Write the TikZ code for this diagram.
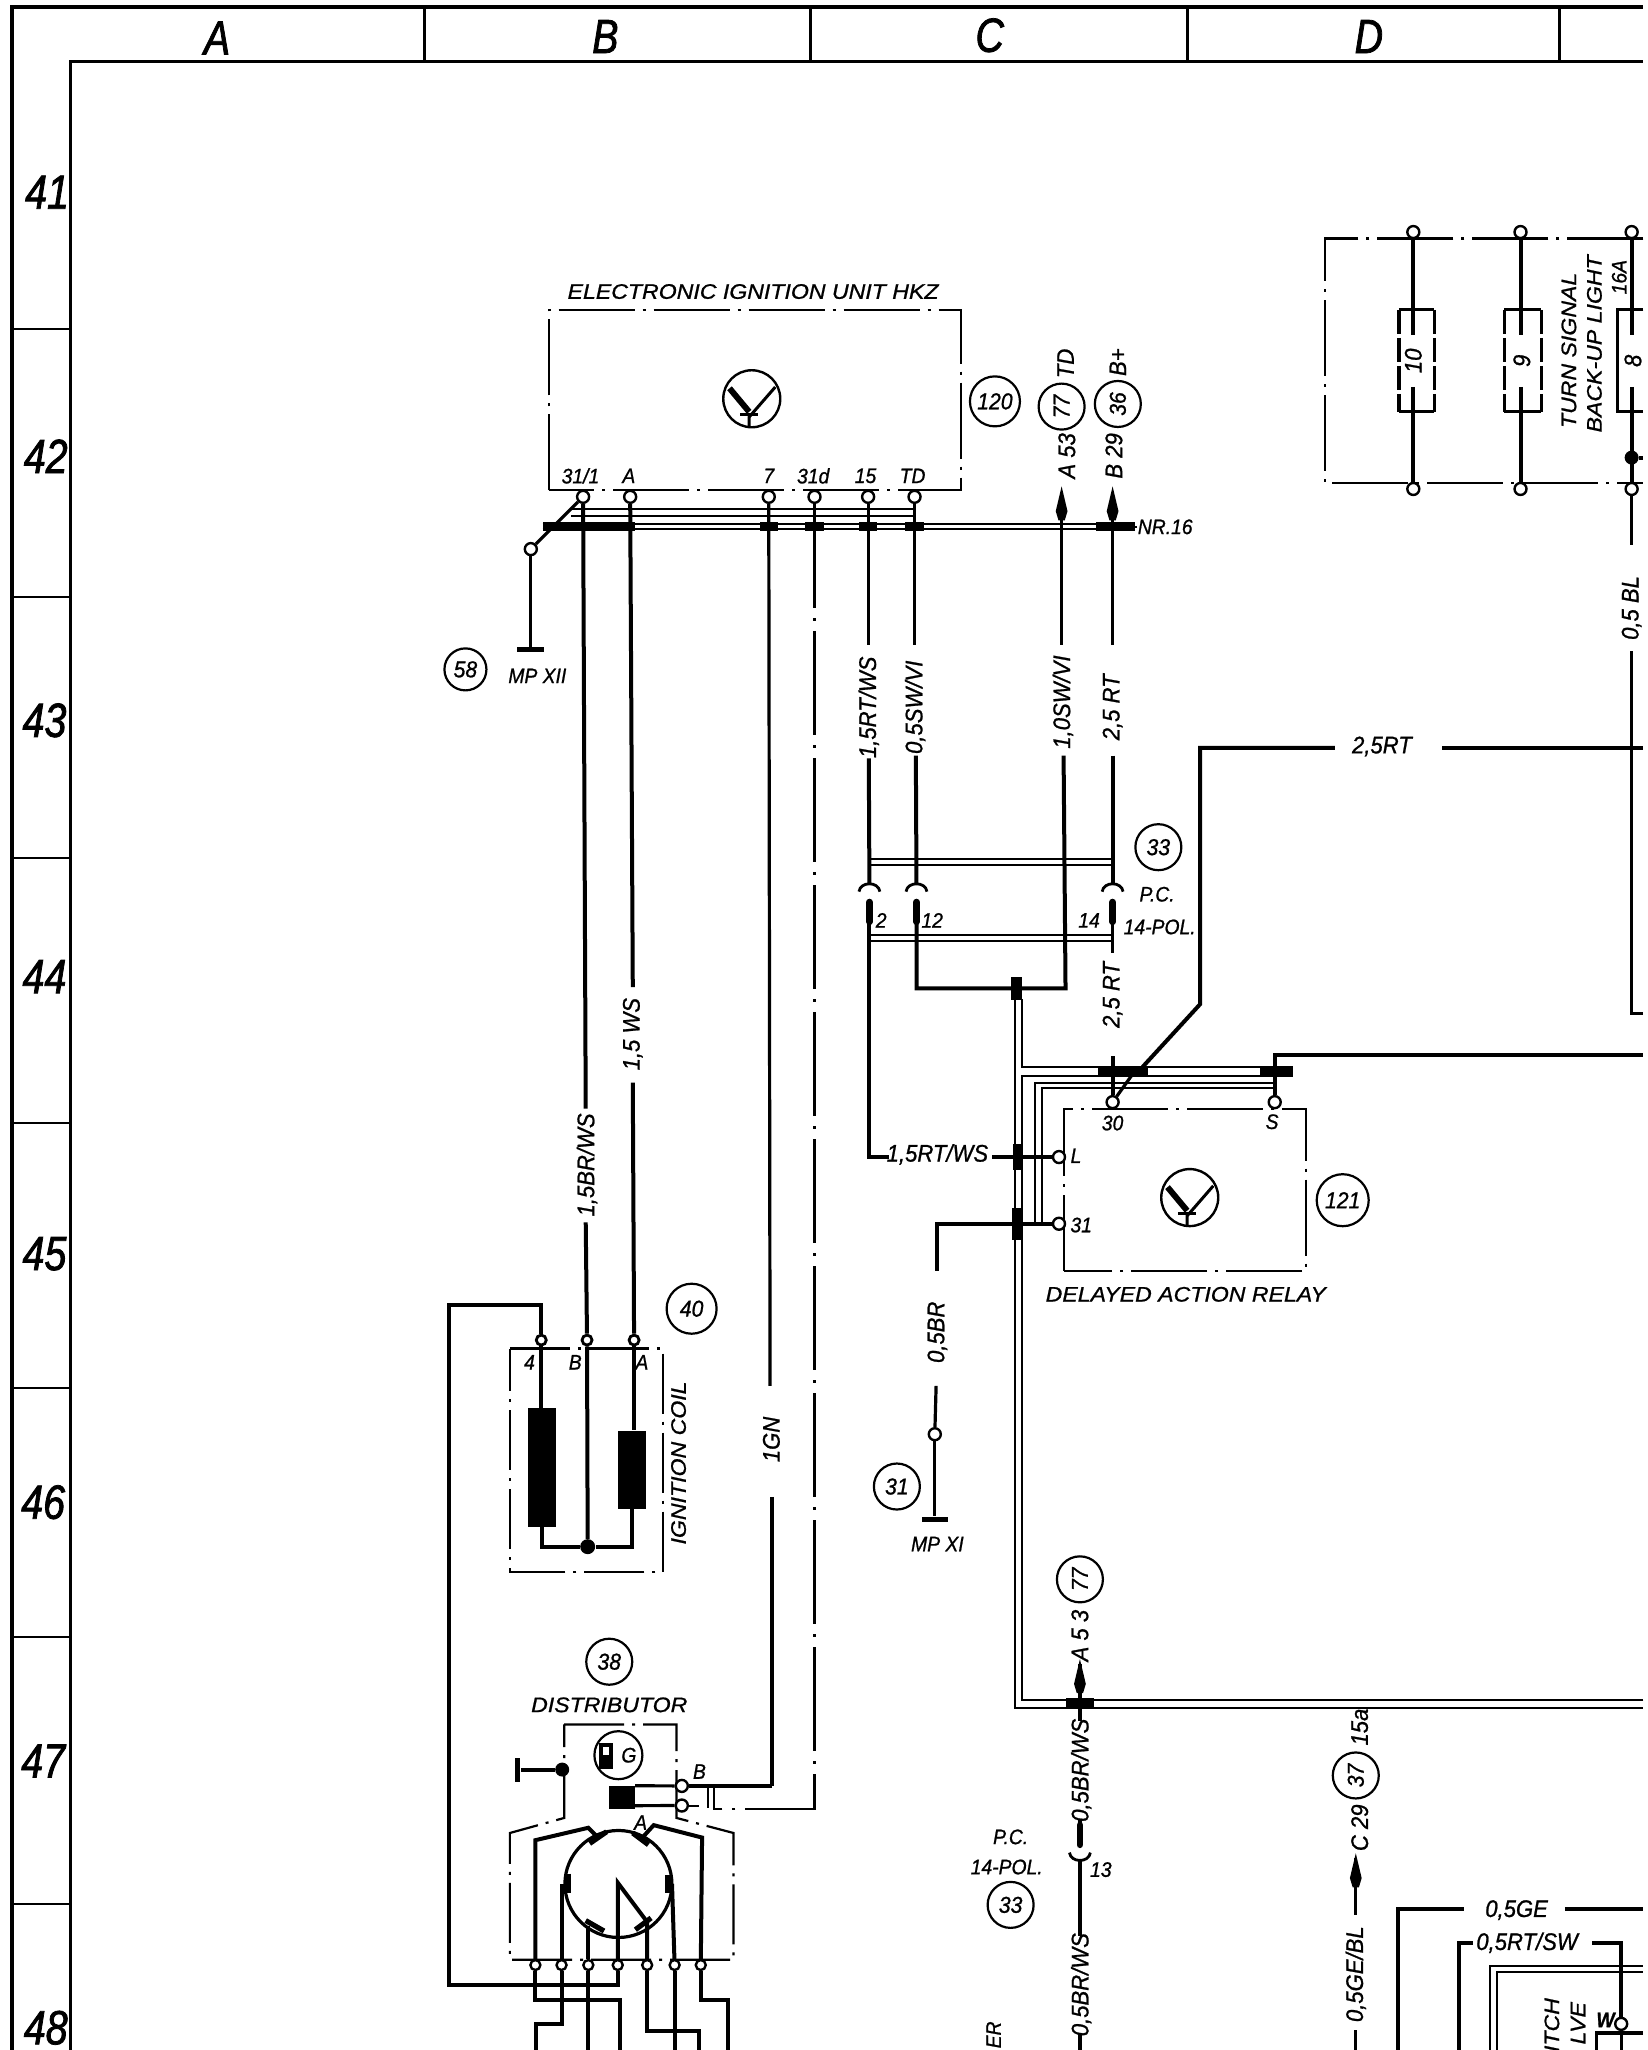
\documentclass[tikz,border=0pt]{standalone}
\usepackage{fontspec}
\setmainfont{Liberation Sans}
\newfontfamily\basef[FakeStretch=0.92,FakeBold=0.9]{Liberation Sans}
\newfontfamily\widef[FakeStretch=1.1,FakeBold=0.9]{Liberation Sans}
\newfontfamily\hdf[FakeStretch=0.82,FakeBold=1.6]{Liberation Sans}
\tikzset{
  frameo/.style={line width=2pt},
  framei/.style={line width=1.3pt},
  wire/.style={line width=2pt},
  mid/.style={line width=1.6pt},
  hair/.style={line width=1pt},
  ddot/.style={line width=1.1pt,dash pattern=on 38pt off 4pt on 1.5pt off 4pt},
  ddots/.style={line width=1.1pt,dash pattern=on 30pt off 4pt on 1.5pt off 4pt},
  term/.style={draw,circle,fill=white,line width=1.2pt,minimum size=6pt,inner sep=0pt},
  sterm/.style={draw,circle,fill=white,line width=1.4pt,minimum size=5pt,inner sep=0pt},
  dotn/.style={fill=black,circle,minimum size=7pt,inner sep=0pt},
  blk/.style={fill=black,inner sep=0pt},
  wl/.style={font=\basef\itshape\fontsize{12}{13}\selectfont,inner sep=0pt},
  vl/.style={wl,rotate=90},
  tl/.style={font=\basef\itshape\fontsize{10.5}{11}\selectfont,inner sep=0pt},
  vt/.style={tl,rotate=90},
  wd/.style={font=\widef\itshape\fontsize{10.5}{11}\selectfont,inner sep=0pt},
  hd/.style={font=\hdf\itshape\fontsize{24}{25}\selectfont,inner sep=0pt},
  cn/.style={draw,circle,line width=1.1pt,inner sep=0pt,minimum size=23pt,font=\basef\itshape\fontsize{11.5}{12}\selectfont},
  tsym/.pic={
    \node[draw,circle,line width=1.2pt,minimum size=28.5pt,inner sep=0pt] (-c) at (0,0) {};
    \draw[line width=3pt] (-17,-8) -- (-2,10);
    \draw[line width=1.5pt] (18,-9) -- (-2,14) -- (-2,21);
    \draw[line width=1.5pt] (-9,12) -- (5,12);
  },
  upplug/.pic={% socket opening downwards, pin below
    \draw[line width=1.4pt] (-8,3) .. controls (-7,-5) and (7,-5) .. (8,3);
    \draw[line width=3.4pt,line cap=round] (0,11) -- (0,26);
    \coordinate (-a) at (0,-3);
    \coordinate (-b) at (0,26);
  },
  dnplug/.pic={% socket opening upwards, pin above
    \draw[line width=1.4pt] (-8,-3) .. controls (-7,5) and (7,5) .. (8,-3);
    \draw[line width=3.4pt,line cap=round] (0,-9) -- (0,-24);
    \coordinate (-a) at (0,3);
    \coordinate (-b) at (0,-24);
  },
  arrowup/.pic={
    \fill (0,0) -- (4.5,19) -- (2.4,26) -- (-2.4,26) -- (-4.5,19) -- cycle;
    \coordinate (-t) at (0,4);
  },
}
\begin{document}
\begin{tikzpicture}[x=0.6537pt,y=-0.6537pt]
\useasboundingbox (0,0) rectangle (1260.5,1568);
\fill[white] (0,0) rectangle (1260.5,1568);

% ---------- frame
\draw[frameo] (9.5,1568) -- (9.5,5) -- (1257,5);
\draw[framei] (54,1568) -- (54,47) -- (1257,47);
\foreach \x in {325,620,908,1193} \draw[line width=1.5pt] (\x,5) -- (\x,47);
\foreach \y in {252,457,656,859,1062,1252,1456} \draw[line width=1pt] (9.5,\y) -- (54,\y);
\node[hd] (hA) at (166,29) {A};
\node[hd] (hB) at (463,28) {B};
\node[hd] (hC) at (757,27) {C};
\node[hd] (hD) at (1047,28) {D};
\node[hd] (r41) at (36,147) {41};
\node[hd] (r42) at (35,349) {42};
\node[hd] (r43) at (34,551) {43};
\node[hd] (r44) at (34,747) {44};
\node[hd] (r45) at (34,959) {45};
\node[hd] (r46) at (33,1149) {46};
\node[hd] (r47) at (33,1347) {47};
\node[hd] (r48) at (35,1551) {48};

% ---------- electronic ignition unit
\draw[ddot] (420,375) -- (420,237) -- (735,237) -- (735,375) -- cycle;
\node[wd] (tHKZ) at (576,223) {ELECTRONIC IGNITION UNIT HKZ};
\pic (s1) at (575,305) {tsym};
\node[cn,minimum size=25pt] (c120) at (761,307) {120};
\node[term] (u31) at (446,380) {};
\node[term] (uA) at (482,380) {};
\node[term] (u7) at (588,380) {};
\node[term] (u31d) at (623,380) {};
\node[term] (u15) at (664,380) {};
\node[term] (uTD) at (699.5,380) {};
\node[tl] (lu31) at (444,364) {31/1};
\node[tl] (luA) at (481,364) {A};
\node[tl] (lu7) at (588,364) {7};
\node[tl] (lu31d) at (622,364) {31d};
\node[tl] (lu15) at (662,364) {15};
\node[tl] (luTD) at (698,364) {TD};

% thin double line under the terminals and the hollow bar
\draw[hair] (437,389.5) -- (699.5,389.5);
\draw[hair] (437,394.5) -- (699.5,394.5);
\draw[hair] (415,400.5) -- (868,400.5);
\draw[hair] (415,405) -- (868,405);
\fill (415,399) rectangle (486,406.5);
\foreach \x in {588,623,664,699.5} \fill (\x-7,399) rectangle (\x+7,406.5);
\fill (838,399) rectangle (868,406.5);
\coordinate (barE) at (868,403);
\node[tl,anchor=west] (nr) at (870,403) {NR.16};
\draw[hair] (barE) -- (nr.west);

% ground 58
\node[term] (g58) at (406,420) {};
\node[blk,minimum width=13.5pt,minimum height=2.4pt] (gb58) at (406,497) {};
\draw[mid] (u31) -- (g58);
\draw[mid] (g58) -- (gb58);
\node[cn,minimum size=21pt] (c58) at (356,512) {58};
\node[tl] (mp12) at (411,517) {MP XII};

% references above
\pic (a53) at (812,372) {arrowup};
\pic (b29) at (851,372) {arrowup};
\node[vl,anchor=east] (tA53) at (816,331) {A 53};
\node[vl,anchor=east] (tB29) at (852,331) {B 29};
\node[cn,rotate=90,minimum size=23pt] (c77) at (812,311) {77};
\node[cn,rotate=90,minimum size=23pt] (c36) at (855,309) {36};
\node[vl] (tTD) at (815,278) {TD};
\node[vl] (tBp) at (855,277) {B+};

% wires down from the unit
\node[vl] (l1) at (449,891) {1,5BR/WS};
\node[vl] (l2) at (484,791) {1,5 WS};
\node[vl] (l7) at (590,1101) {1GN};
\node[vl] (l15) at (664.5,541) {1,5RT/WS};
\node[vl] (lTD) at (700,541) {0,5SW/VI};
\node[vl] (l53) at (813,537) {1,0SW/VI};
\node[vl] (l29) at (851,541) {2,5 RT};

% coil terminals
\node[sterm] (cT4) at (414,1025) {};
\node[sterm] (cTB) at (449,1025) {};
\node[sterm] (cTA) at (485,1025) {};

\draw[wire] (u31) -- (448,848) coordinate (e1a);
\draw[wire] (448,935) coordinate (s1b) -- (cTB);
\draw[wire] (uA) -- (484,755) coordinate (e2a);
\draw[wire] (484,828) coordinate (s2b) -- (cTA);
\draw[mid] (u7) -- (589,1060) coordinate (e7a);
\draw[wire] (590.5,1145) coordinate (s7b) -- (590.5,1366) coordinate (b7);
\draw[line width=1.2pt,dash pattern=on 52pt off 5pt on 1.5pt off 5pt] (u31d) -- (623,1383.5) -- (545,1383.5);
\draw[mid] (u15) -- (664,493) coordinate (e15);
\draw[mid] (uTD) -- (699.5,493) coordinate (eTD);
\draw[mid] (a53-t) -- (812,493) coordinate (e53);
\draw[mid] (b29-t) -- (851,493) coordinate (e29);

% connector 33 (P.C. 14-pol.)
\pic (p2) at (665,679) {upplug};
\pic (p12) at (701,679) {upplug};
\pic (p14) at (851,679) {upplug};
\draw[hair] (665,657) -- (851,657);
\draw[hair] (665,661.5) -- (851,661.5);
\draw[hair] (665,715) -- (851,715);
\draw[hair] (665,720) -- (851,720);
\draw[wire] (664.5,580) coordinate (s15) -- (p2-a);
\draw[wire] (700.5,578) coordinate (sTD) -- (p12-a);
\draw[wire] (851,578) coordinate (s29) -- (p14-a);
\node[tl] (t2) at (674,704) {2};
\node[tl] (t12) at (713,704) {12};
\node[tl] (t14) at (833,704) {14};
\node[cn] (c33a) at (886,648) {33};
\node[tl] (pca) at (885,684) {P.C.};
\node[tl] (pola) at (887,709) {14-POL.};
\draw[mid] (p14-b) -- (851,729) coordinate (e14);
\node[vl] (l25) at (851,761) {2,5 RT};

% relay 121
\draw[ddot] (814,972) -- (814,848) -- (999,848) -- (999,972) -- cycle;
\node[term] (r30) at (851,843) {};
\node[term] (rS) at (975,843) {};
\node[term] (rL) at (810,885) {};
\node[term] (r31) at (810,936) {};
\node[tl] (tr30) at (851,859) {30};
\node[tl] (trS) at (973,858) {S};
\node[tl] (trL) at (823,884) {L};
\node[tl] (tr31) at (827,937) {31};
\pic (s2) at (910,916) {tsym};
\node[cn,minimum size=26pt] (c121) at (1027,918) {121};
\node[wd] (tDAR) at (907,990) {DELAYED ACTION RELAY};

% wires into the relay
\draw[wire] (851,808) coordinate (s30) -- (r30);
\node[wl] (l15h) at (717,883) {1,5RT/WS};
\draw[wire] (p2-b) -- (665,885) -- (680,885) coordinate (e2);
\draw[mid] (759,885) coordinate (s2h) -- (rL);
\draw[wire] (p12-b) -- (701,756) -- (815,756) -- (813.5,578) coordinate (s53);

% harness
\node[blk,minimum width=5.2pt,minimum height=11.5pt] (jH) at (777.5,756) {};
\draw[hair] (776,764) -- (776,1306.5) -- (1257,1306.5);
\draw[hair] (781.5,764) -- (781.5,816.5) -- (988,816.5);
\draw[hair] (1257,1300) -- (781.5,1300) -- (781.5,823) -- (988,823);
\fill (840,815.5) rectangle (878,824);
\fill (964,815.5) rectangle (989,824);
\draw[hair] (792,935) -- (792,828.5) -- (975,828.5);
\draw[hair] (797,935) -- (797,832.5) -- (975,832.5);
\node[blk,minimum width=4pt,minimum height=13pt] (jL) at (778,885) {};
\node[blk,minimum width=5.5pt,minimum height=16pt] (j31) at (778,936) {};

% 2,5RT feed
\node[wl] (l25h) at (1057,571) {2,5RT};
\draw[wire] (1021,572) coordinate (e25a) -- (918,572) -- (918,768) -- (874,816);
\draw[mid] (866,822) -- (r30);
\draw[wire] (1103,572) coordinate (s25b) -- (1257,572);
\draw[wire] (rS) -- (975,807) -- (1257,807);

% ground 31
\node[term] (g31) at (715,1097) {};
\node[blk,minimum width=13pt,minimum height=2.4pt] (gb31) at (715,1162) {};
\draw[wire] (r31) -- (717,936) -- (717,972) coordinate (e31);
\draw[mid] (716,1060) coordinate (s31) -- (g31);
\draw[mid] (g31) -- (gb31);
\node[vl] (l05) at (717,1019) {0,5BR};
\node[cn] (c31) at (686,1137) {31};
\node[tl] (mp11) at (717,1181) {MP XI};

% ---------- fuse block
\draw[ddot] (1257,182.4) -- (1013.6,182.4) -- (1013.6,369.6) -- (1257,369.6);
\node[term] (f10t) at (1081,177.5) {};
\node[term] (f9t) at (1163,177.5) {};
\node[term] (f8t) at (1248,177.5) {};
\node[term] (f10b) at (1081,374) {};
\node[term] (f9b) at (1163,374) {};
\node[term] (f8b) at (1248,374) {};
\draw[mid] (1070,237) -- (1097,237);
\draw[mid] (1070,315) -- (1097,315);
\draw[mid,dash pattern=on 12pt off 2pt] (1070,237) -- (1070,315);
\draw[mid,dash pattern=on 12pt off 2pt] (1097,237) -- (1097,315);
\draw[mid] (1150.5,237) -- (1179,237);
\draw[mid] (1150.5,315) -- (1179,315);
\draw[mid,dash pattern=on 12pt off 2pt] (1150.5,237) -- (1150.5,315);
\draw[mid,dash pattern=on 12pt off 2pt] (1179,237) -- (1179,315);
\draw[mid] (1257,237) -- (1237,237) -- (1237,315) -- (1257,315);
\draw[wire] (f10t) -- (1081,256) coordinate (f10x);
\draw[wire] (1081,296) coordinate (f10y) -- (f10b);
\draw[wire] (f9t) -- (1163,256) coordinate (f9x);
\draw[wire] (1163,296) coordinate (f9y) -- (f9b);
\draw[wire] (f8t) -- (1248,256) coordinate (f8x);
\draw[wire] (1248,296) coordinate (f8y) -- (f8b);
\node[vl] (t10) at (1081,276) {10};
\node[vl] (t9) at (1164,276) {9};
\node[vl] (t8) at (1249,276) {8};
\node[dotn] (d8) at (1248,350) {};
\draw[wire] (d8) -- (1257,350);
\node[wd,rotate=90] (tTS) at (1200,268) {TURN SIGNAL};
\node[wd,rotate=90] (tBU) at (1219.5,263) {BACK-UP LIGHT};
\node[vt] (t16) at (1238.5,212) {16A};
\draw[mid] (f8b) -- (1248,417) coordinate (e8);
\node[vl] (l05bl) at (1248,465) {0,5 BL};
\draw[mid] (1248,498) coordinate (s8) -- (1248,775) -- (1257,775);

% ---------- ignition coil
\draw[ddots] (390,1031.5) -- (507,1031.5) -- (507,1202.5) -- (390,1202.5) -- cycle;
\node[tl] (tc4) at (405,1042) {4};
\node[tl] (tcB) at (440,1042) {B};
\node[tl] (tcA) at (491,1042) {A};
\node[cn,minimum size=25pt] (c40) at (529,1001) {40};
\node[wd,rotate=90] (tIC) at (519,1119) {IGNITION COIL};
\node[blk,minimum width=14pt,minimum height=59.5pt] (k1) at (414.5,1122.5) {};
\node[blk,minimum width=14pt,minimum height=39pt] (k2) at (483.5,1124) {};
\node[dotn,minimum size=7.5pt] (kd) at (449.5,1183) {};
\draw[wire] (cT4) -- (k1.north -| cT4);
\draw[wire] (cTA) -- (k2.north -| cTA);
\draw[wire] (cTB) -- (kd);
\draw[wire] (k1.south) -- (414.5,1183) -- (kd);
\draw[wire] (k2.south) -- (483.5,1183) -- (kd);

% ---------- distributor
\node[cn] (c38) at (466,1271) {38};
\node[wd] (tDI) at (466,1304) {DISTRIBUTOR};
\draw[ddots] (431.5,1319) -- (517.5,1319) -- (517.5,1390.5) -- (561,1402) -- (561,1499) -- (390,1499) -- (390,1402) -- (431.5,1390.5) -- cycle;
\node[dotn,minimum size=7pt] (dd) at (430,1353.5) {};
\node[blk,minimum width=2.6pt,minimum height=12pt] (db) at (396,1353.5) {};
\draw[wire] (dd) -- (db);
\node[cn,minimum size=24pt] (cG) at (473,1342.5) {};
\node[wl,font=\basef\itshape\fontsize{10.5}{11}\selectfont] (tG) at (481,1342.5) {G};
\fill (458.5,1333.5) rectangle (468.5,1353);
\fill[white] (461,1336) rectangle (466,1342);
\node[blk,minimum width=13pt,minimum height=11.5pt] (dk) at (475.5,1375) {};
\node[term] (dB) at (521.5,1366) {};
\node[term] (dA) at (521.5,1381) {};
\node[tl] (tdB) at (535,1355) {B};
\node[tl] (tdA) at (490,1394) {A};
\draw[mid] (dk.north east) -- (dB);
\draw[mid] (dk.south east) ++(0,-3) -- (dA);
\draw[mid] (dB) -- (b7);
\draw[hair] (dA) -- (535,1381) coordinate (dAx);
\draw[hair] (541.5,1366) -- (541.5,1383);
\draw[hair] (546,1366) -- (546,1383);
% rotor
\node[draw,circle,line width=1.6pt,minimum size=53.5pt,inner sep=0pt] (rot) at (473,1441) {};
\draw[line width=2.6pt] (451,1410) -- (464,1401);
\draw[line width=2.6pt] (484,1402) -- (496,1411);
\draw[line width=2.6pt] (434.5,1433) -- (434.5,1448);
\draw[line width=2.6pt] (511,1434) -- (511,1448);
\draw[line width=2.6pt] (448,1469) -- (462,1477);
\draw[line width=2.6pt] (486,1476) -- (498,1467);
\foreach \n/\x in {a/409.5,b/429.5,c/450,d/472.5,e/495,f/516,g/536} \node[term,minimum size=5pt] (q\n) at (\x,1503) {};
\draw[wire] (qa) -- (409.5,1407.5) -- (450,1398) -- (457,1405);
\draw[wire] (qb) -- (429.5,1441);
\draw[wire] (qc) -- (450,1473);
\draw[wire] (qd) -- (472.5,1440) -- (495,1470) -- (qe);
\draw[wire] (qf) -- (514,1441);
\draw[wire] (qg) -- (537,1405.5) -- (500,1396) -- (490,1407);
\draw[wire] (qa) -- (409.5,1530) -- (474,1530) -- (474,1568);
\draw[wire] (qb) -- (429.5,1548) -- (410,1548) -- (410,1568);
\draw[wire] (qc) -- (450,1568);
\draw[wire] (qd) -- (472.5,1518) -- (343.5,1518) -- (343.5,998) -- (414,998) -- (cT4);
\draw[wire] (qe) -- (495,1553.5) -- (535,1553.5) -- (535,1568);
\draw[wire] (qf) -- (516,1568);
\draw[wire] (qg) -- (536,1530) -- (557,1530) -- (557,1568);

% ---------- lower centre
\pic (a53b) at (826,1269) {arrowup};
\node[vl,anchor=east] (tA53b) at (826,1231) {A 5 3};
\node[cn,rotate=90] (c77b) at (826,1208) {77};
\node[blk,minimum width=14pt,minimum height=5.5pt] (j53) at (826,1303) {};
\node[vl] (l53b) at (827,1354) {0,5BR/WS};
\draw[mid] (a53b-t) -- (j53);
\draw[mid] (j53) -- (826,1316) coordinate (e53b);
\pic (p13) at (826,1420) {dnplug};
\draw[mid] (p13-b) -- (826,1392);
\draw[mid] (p13-a) -- (826,1481) coordinate (e13);
\node[vl] (l13b) at (827,1518) {0,5BR/WS};
\draw[mid] (826,1556) coordinate (s13) -- (826,1568);
\node[tl] (t13) at (842,1430) {13};
\node[tl] (pcb) at (773,1405) {P.C.};
\node[tl] (polb) at (770,1428) {14-POL.};
\node[cn] (c33b) at (773,1457) {33};
\node[vt,anchor=west] (tER) at (760,1567) {ER};

\node[vl] (t15a) at (1040,1321) {15a};
\node[cn,rotate=90] (c37) at (1037,1358) {37};
\node[vl] (tC29) at (1040,1398) {C 29};
\pic (c29) at (1037,1417.5) {arrowup};
\draw[mid] (c29-t) -- (1037,1465) coordinate (e29b);
\node[vl] (lGB) at (1037,1510) {0,5GE/BL};
\draw[mid] (1037,1553) coordinate (s29b) -- (1037,1568);

\node[wl] (lGE) at (1160,1461) {0,5GE};
\draw[wire] (1069.5,1568) -- (1069.5,1460.5) -- (1120,1460.5) coordinate (eGE);
\draw[wire] (1197,1460.5) coordinate (sGE) -- (1257,1460.5);
\node[wl] (lRS) at (1168,1486) {0,5RT/SW};
\node[term] (tW) at (1240,1548) {};
\draw[wire] (1116,1568) -- (1116,1486) -- (1127,1486) coordinate (eRS);
\draw[wire] (1218,1486) coordinate (sRS) -- (1240,1486) -- (tW);
\draw[mid] (tW) -- (1240,1568);
\draw[hair] (1140,1568) -- (1140,1503.7) -- (1257,1503.7);
\draw[hair] (1144.7,1568) -- (1144.7,1508) -- (1257,1508);
\node[wd,rotate=90,anchor=east] (tIT) at (1187,1528) {ITCH};
\node[wd,rotate=90,anchor=east] (tLV) at (1207,1531) {LVE};
\node[tl,font=\basef\bfseries\itshape\fontsize{10.5}{11}\selectfont] (tWl) at (1228,1545) {W};
\draw[mid] (1221,1568) -- (1221,1555) -- (1257,1555);
\end{tikzpicture}
\end{document}
